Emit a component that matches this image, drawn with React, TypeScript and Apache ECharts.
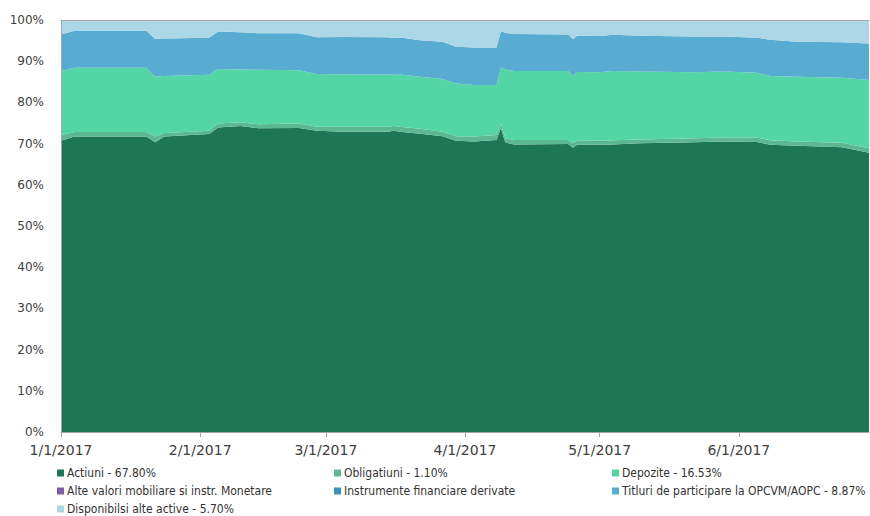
import React, { useEffect, useRef } from "react";
import * as echarts from "echarts";

const dates = [
  "2017-01-01", "2017-01-04", "2017-01-20", "2017-01-22", "2017-01-24", "2017-02-03",
  "2017-02-05", "2017-02-10", "2017-02-14", "2017-02-23", "2017-02-27", "2017-03-05",
  "2017-03-15", "2017-03-16", "2017-03-18", "2017-03-22", "2017-03-27", "2017-03-30",
  "2017-04-03", "2017-04-08", "2017-04-09", "2017-04-10", "2017-04-12", "2017-04-24",
  "2017-04-25", "2017-04-26", "2017-05-01", "2017-05-04", "2017-05-10", "2017-05-22",
  "2017-05-29", "2017-06-05", "2017-06-08", "2017-06-14", "2017-06-24", "2017-06-30",
];

const actiuni = [
  70.7, 71.7, 71.7, 70.3, 71.7, 72.3, 73.9, 74.3, 73.7, 73.8, 73.1, 72.9,
  72.9, 73.1, 72.8, 72.4, 71.8, 70.7, 70.5, 70.9, 73.7, 70.2, 69.8, 69.9,
  69.0, 69.7, 69.7, 69.8, 70.1, 70.3, 70.5, 70.4, 69.7, 69.5, 69.1, 67.8,
];
const obligatiuni = [
  1.4, 1.1, 1.1, 1.4, 0.9, 0.8, 1.0, 0.9, 1.0, 1.1, 1.0, 1.2,
  1.2, 1.2, 1.2, 1.2, 1.1, 1.1, 1.2, 1.2, 1.1, 1.1, 1.1, 1.0,
  1.1, 1.1, 1.0, 1.0, 0.9, 1.0, 1.0, 1.1, 1.1, 1.0, 1.1, 1.1,
];
const depozite = [
  15.5, 15.6, 15.6, 14.5, 13.8, 13.6, 13.2, 12.8, 13.2, 12.9, 12.8, 12.7,
  12.7, 12.4, 12.7, 12.6, 12.8, 12.8, 12.5, 12.1, 13.7, 16.7, 16.7, 16.7,
  16.4, 16.6, 16.6, 16.8, 16.5, 16.0, 16.0, 15.7, 15.6, 15.7, 15.8, 16.53,
];
const titluri = [
  8.9, 9.0, 9.0, 9.2, 9.1, 9.0, 9.1, 9.0, 8.9, 9.0, 8.9, 9.1,
  9.0, 9.0, 9.0, 8.9, 9.0, 8.9, 9.1, 9.1, 8.8, 8.9, 9.0, 8.9,
  8.8, 8.8, 8.8, 8.8, 8.7, 8.7, 8.5, 8.5, 8.8, 8.5, 8.6, 8.87,
];
const disponibil = [
  3.5, 2.6, 2.6, 4.6, 4.5, 4.3, 2.8, 3.0, 3.2, 3.2, 4.2, 4.1,
  4.2, 4.3, 4.3, 4.9, 5.3, 6.5, 6.7, 6.7, 2.7, 3.1, 3.4, 3.5,
  4.7, 3.8, 3.9, 3.6, 3.8, 4.0, 4.0, 4.3, 4.8, 5.3, 5.4, 5.7,
];

const seriesNames = [
  "Actiuni - 67.80%",
  "Obligatiuni - 1.10%",
  "Depozite - 16.53%",
  "Alte valori mobiliare si instr. Monetare",
  "Instrumente financiare derivate",
  "Titluri de participare la OPCVM/AOPC - 8.87%",
  "Disponibilsi alte active - 5.70%",
];
const seriesColors = ["#1d7656", "#5cb892", "#53d5a5", "#7a5ea5", "#3e93b3", "#58acd1", "#acd7e7"];

const axisStart = "2017-01-01";
const axisEnd = "2017-06-30";

function toTs(s: string): number {
  const [y, m, d] = s.split("-").map(Number);
  return new Date(y, m - 1, d).getTime();
}

export default function App() {
  const ref = useRef<HTMLDivElement>(null);

  useEffect(() => {
    if (!ref.current) return;
    const chart = echarts.init(ref.current, undefined, { renderer: "svg" });
    const values = [actiuni, obligatiuni, depozite, null, null, titluri, disponibil];
    const legendFont = "'DejaVu Sans Condensed', 'DejaVu Sans', sans-serif";
    const legendBase = {
      orient: "vertical" as const,
      top: 467,
      itemWidth: 7,
      itemHeight: 7,
      itemGap: 6,
      icon: "rect",
      textStyle: { fontFamily: legendFont, fontSize: 12, color: "#333", padding: [0, 0, 0, -2] },
      padding: 0,
    };
    chart.setOption({
      animation: false,
      backgroundColor: "#fff",
      grid: { left: 61, right: 1, top: 20, bottom: 84, containLabel: false },
      xAxis: [
        {
          type: "time",
          min: toTs(axisStart),
          max: toTs(axisEnd),
          axisLine: { show: true, onZero: false, lineStyle: { color: "#a6a6a6", width: 1 } },
          axisTick: { show: true, length: 5, lineStyle: { color: "#a6a6a6" } },
          axisLabel: {
            margin: 11,
            fontFamily: "'DejaVu Sans', sans-serif",
            fontSize: 14,
            color: "#404040",
            showMinLabel: true,
            showMaxLabel: false,
            hideOverlap: false,
            formatter: (v: number) => {
              const d = new Date(v);
              return `${d.getMonth() + 1}/${d.getDate()}/${d.getFullYear()}`;
            },
          },
          splitLine: { show: false },
          z: 5,
        },
        {
          type: "time",
          position: "top",
          min: toTs(axisStart),
          max: toTs(axisEnd),
          axisLine: { show: true, onZero: false, lineStyle: { color: "#a6a6a6", width: 1 } },
          axisTick: { show: false },
          axisLabel: { show: false },
          splitLine: { show: false },
          z: 5,
        },
      ],
      yAxis: {
        type: "value",
        min: 0,
        max: 100,
        interval: 10,
        axisLine: { show: true, onZero: false, lineStyle: { color: "#a6a6a6", width: 1 } },
        axisTick: { show: false },
        splitLine: { show: false },
        axisLabel: {
          formatter: "{value}%",
          margin: 17,
          fontFamily: "'DejaVu Sans', sans-serif",
          fontSize: 12,
          color: "#404040",
        },
        z: 5,
      },
      legend: [
        { ...legendBase, left: 57, data: [seriesNames[0], seriesNames[3], seriesNames[6]] },
        { ...legendBase, left: 334, data: [seriesNames[1], seriesNames[4]] },
        { ...legendBase, left: 612, data: [seriesNames[2], seriesNames[5]] },
      ],
      series: seriesNames.map((name, i) => {
        const vals = values[i];
        return {
          name,
          type: "line",
          stack: "total",
          symbol: "none",
          showSymbol: false,
          color: seriesColors[i],
          lineStyle: { width: 0 },
          areaStyle: { color: seriesColors[i], opacity: 1 },
          data: vals ? dates.map((d, j) => [toTs(d), vals[j]]) : [],
        };
      }),
    });
    return () => chart.dispose();
  }, []);

  return (
    <div
      ref={ref}
      style={{ position: "fixed", left: 0, top: 0, width: 870, height: 516, background: "#fff" }}
    />
  );
}
